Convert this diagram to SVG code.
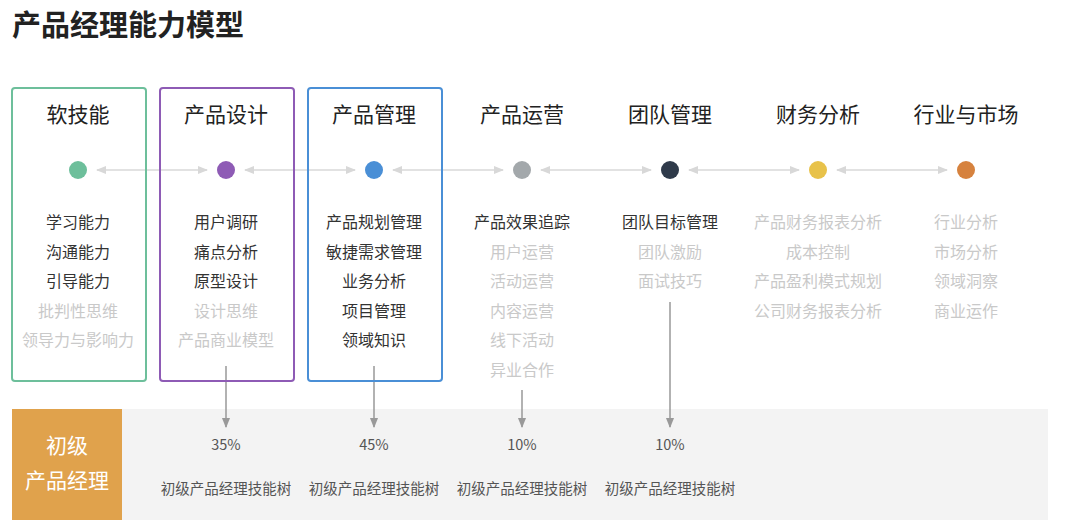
<svg xmlns="http://www.w3.org/2000/svg" width="1080" height="527" viewBox="0 0 1080 527">
<style>
text{font-family:"Noto Sans CJK SC","Liberation Sans",sans-serif;text-anchor:middle}
.h{font-size:21px;fill:#222}
.d{font-size:16px;fill:#333}
.l{font-size:16px;fill:#c9c9c9}
.p{font-size:14.5px;fill:#555}
.box{fill:none;stroke-width:2}
.c{stroke:#d8d8d8;stroke-width:1.5;fill:none}
.v{stroke:#999;stroke-width:1.5;fill:none}
</style>
<defs>
<marker id="ah" viewBox="0 0 10 10" refX="9" refY="5" markerWidth="7" markerHeight="7" orient="auto-start-reverse"><path d="M0,1L10,5L0,9z" fill="#d8d8d8"/></marker>
<marker id="av" viewBox="0 0 10 10" refX="9" refY="5" markerWidth="7" markerHeight="7" orient="auto"><path d="M0,1L10,5L0,9z" fill="#999"/></marker>
</defs>
<rect width="1080" height="527" fill="#fff"/>
<text x="12" y="36" style="font-size:29px;font-weight:bold;text-anchor:start;fill:#222">产品经理能力模型</text>
<rect x="122" y="409" width="926" height="111" fill="#f3f3f3"/>
<g id="level"><rect x="12" y="409" width="110" height="111" fill="#e0a24c"/>
<text x="67" y="453" style="font-size:21px;fill:#fff">初级</text><text x="67" y="488" style="font-size:21px;fill:#fff">产品经理</text></g>
<g id="connectors">
<path class="c" d="M97,170H207" marker-start="url(#ah)" marker-end="url(#ah)"/>
<path class="c" d="M245,170H355" marker-start="url(#ah)" marker-end="url(#ah)"/>
<path class="c" d="M393,170H503" marker-start="url(#ah)" marker-end="url(#ah)"/>
<path class="c" d="M541,170H651" marker-start="url(#ah)" marker-end="url(#ah)"/>
<path class="c" d="M689,170H799" marker-start="url(#ah)" marker-end="url(#ah)"/>
<path class="c" d="M837,170H947" marker-start="url(#ah)" marker-end="url(#ah)"/>
<path class="v" d="M226,366V427" marker-end="url(#av)"/>
<path class="v" d="M374,366V427" marker-end="url(#av)"/>
<path class="v" d="M522,390V427" marker-end="url(#av)"/>
<path class="v" d="M670,302V427" marker-end="url(#av)"/>
</g>
<g id="n1"><rect class="box" x="12" y="88" width="134" height="293" rx="3" stroke="#6dbf9b"/>
<text class="h" x="78" y="122">软技能</text><circle cx="78" cy="170" r="9" fill="#6dbf9b"/>
<text class="d" x="78" y="228">学习能力</text><text class="d" x="78" y="258">沟通能力</text><text class="d" x="78" y="287">引导能力</text><text class="l" x="78" y="317">批判性思维</text><text class="l" x="78" y="346">领导力与影响力</text></g>
<g id="n2"><rect class="box" x="160" y="88" width="134" height="293" rx="3" stroke="#8e5bb5"/>
<text class="h" x="226" y="122">产品设计</text><circle cx="226" cy="170" r="9" fill="#8e5bb5"/>
<text class="d" x="226" y="228">用户调研</text><text class="d" x="226" y="258">痛点分析</text><text class="d" x="226" y="287">原型设计</text><text class="l" x="226" y="317">设计思维</text><text class="l" x="226" y="346">产品商业模型</text></g>
<g id="n3"><rect class="box" x="308" y="88" width="134" height="293" rx="3" stroke="#4a8fd6"/>
<text class="h" x="374" y="122">产品管理</text><circle cx="374" cy="170" r="9" fill="#4a8fd6"/>
<text class="d" x="374" y="228">产品规划管理</text><text class="d" x="374" y="258">敏捷需求管理</text><text class="d" x="374" y="287">业务分析</text><text class="d" x="374" y="317">项目管理</text><text class="d" x="374" y="346">领域知识</text></g>
<g id="n4"><text class="h" x="522" y="122">产品运营</text><circle cx="522" cy="170" r="9" fill="#a3a8ab"/>
<text class="d" x="522" y="228">产品效果追踪</text><text class="l" x="522" y="258">用户运营</text><text class="l" x="522" y="287">活动运营</text><text class="l" x="522" y="317">内容运营</text><text class="l" x="522" y="346">线下活动</text><text class="l" x="522" y="376">异业合作</text></g>
<g id="n5"><text class="h" x="670" y="122">团队管理</text><circle cx="670" cy="170" r="9" fill="#2f3a4a"/>
<text class="d" x="670" y="228">团队目标管理</text><text class="l" x="670" y="258">团队激励</text><text class="l" x="670" y="287">面试技巧</text></g>
<g id="n6"><text class="h" x="818" y="122">财务分析</text><circle cx="818" cy="170" r="9" fill="#e8c24a"/>
<text class="l" x="818" y="228">产品财务报表分析</text><text class="l" x="818" y="258">成本控制</text><text class="l" x="818" y="287">产品盈利模式规划</text><text class="l" x="818" y="317">公司财务报表分析</text></g>
<g id="n7"><text class="h" x="966" y="122">行业与市场</text><circle cx="966" cy="170" r="9" fill="#d6823e"/>
<text class="l" x="966" y="228">行业分析</text><text class="l" x="966" y="258">市场分析</text><text class="l" x="966" y="287">领域洞察</text><text class="l" x="966" y="317">商业运作</text></g>
<g id="results">
<text class="p" x="226" y="450">35%</text><text class="p" x="226" y="494">初级产品经理技能树</text>
<text class="p" x="374" y="450">45%</text><text class="p" x="374" y="494">初级产品经理技能树</text>
<text class="p" x="522" y="450">10%</text><text class="p" x="522" y="494">初级产品经理技能树</text>
<text class="p" x="670" y="450">10%</text><text class="p" x="670" y="494">初级产品经理技能树</text>
</g>
</svg>
